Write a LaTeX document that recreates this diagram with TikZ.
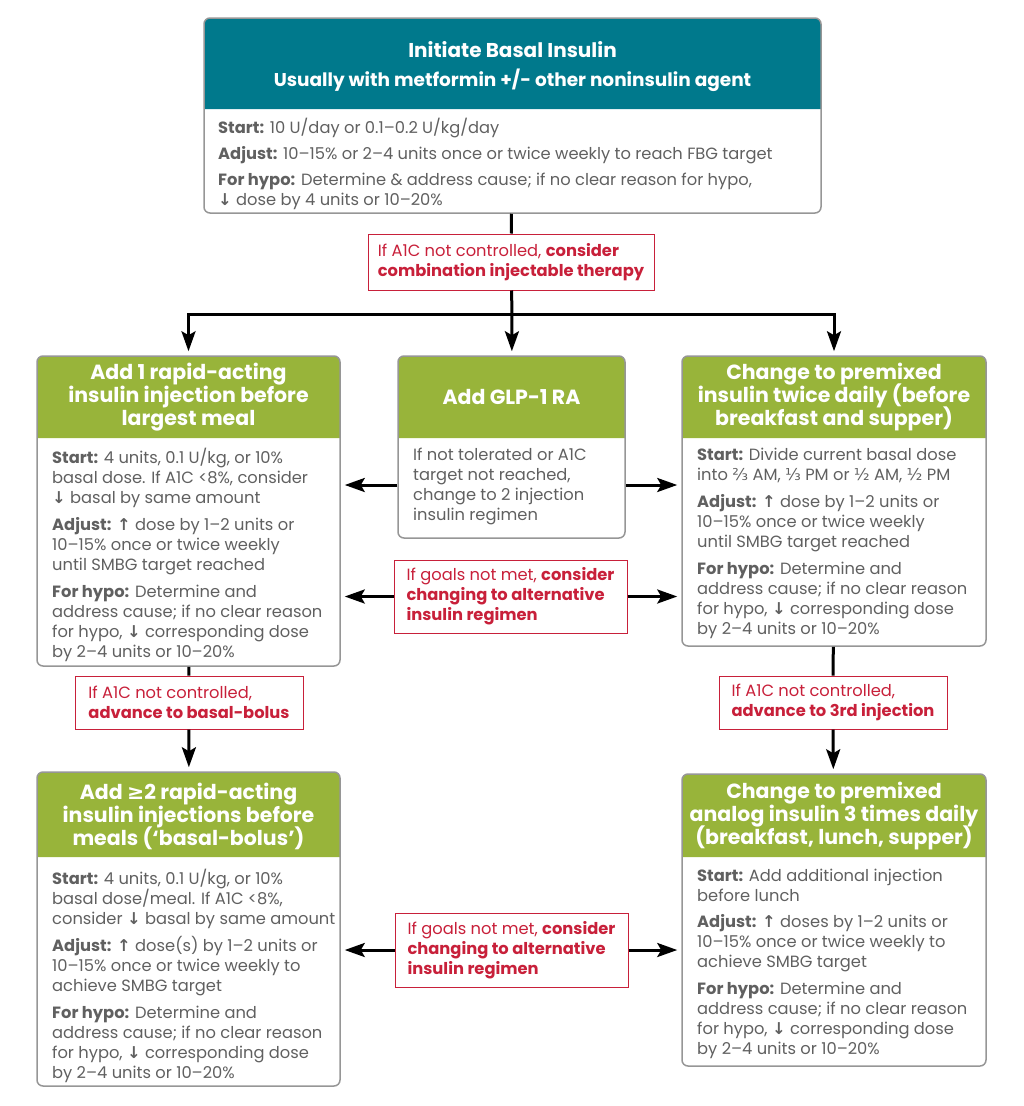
\documentclass[tikz,border=0pt]{standalone}
\usepackage{fontspec}
\setmainfont{Poppins}
\newfontfamily\symfont{DejaVu Sans}
\usetikzlibrary{arrows.meta}

\definecolor{hdrteal}{RGB}{0,121,140}
\definecolor{hdrgreen}{RGB}{152,180,58}
\definecolor{alertred}{RGB}{200,32,58}
\definecolor{bodygray}{RGB}{96,96,96}
\definecolor{framegray}{RGB}{150,150,150}

\setlength{\lineskiplimit}{-20pt}
\newcommand\arrdown{{\symfont\bfseries ↓}}
\newcommand\arrup{{\symfont\bfseries ↑}}
\newcommand\lbl[1]{{\bfseries #1}}

\tikzset{
  stepframe/.style = {draw=framegray, line width=1.5pt, rounded corners=6pt},
  steptitle/.style = {text=white, align=center, inner sep=0pt,
    font=\fontsize{20.5}{23}\selectfont\bfseries},
  stepbody/.style = {text=bodygray, align=left, inner sep=0pt, anchor=north west,
    font=\fontsize{16.3}{20}\selectfont},
  altbox/.style = {draw=alertred, line width=1pt, fill=white, text=alertred,
    align=left, font=\fontsize{16.3}{20}\selectfont},
  flow/.style = {line width=3pt},
  flowarrow/.style = {line width=3pt, -{Stealth[length=20pt, width=14pt, inset=4pt]},
    shorten >=4pt}
}

\begin{document}
\begin{tikzpicture}[x=1pt, y=-1pt]
\useasboundingbox (0,0) rectangle (1024,1106);

% headers
\fill[hdrteal, rounded corners=6pt] (204,109) -- (204,18) -- (821,18) -- (821,109);
\fill[hdrgreen, rounded corners=6pt] (37,438) -- (37,356) -- (340,356) -- (340,438);
\fill[hdrgreen, rounded corners=6pt] (398,438) -- (398,356) -- (625,356) -- (625,438);
\fill[hdrgreen, rounded corners=6pt] (682,438) -- (682,356) -- (986,356) -- (986,438);
\fill[hdrgreen, rounded corners=6pt] (37,857) -- (37,772) -- (340,772) -- (340,857);
\fill[hdrgreen, rounded corners=6pt] (682,857) -- (682,774) -- (986,774) -- (986,857);

% frames
\node[stepframe, minimum width=617pt, minimum height=195pt] (basal) at (512.5,115.5) {};
\node[stepframe, minimum width=303pt, minimum height=310pt] (rapid) at (188.5,511) {};
\node[stepframe, minimum width=227pt, minimum height=182pt] (glp) at (511.5,447) {};
\node[stepframe, minimum width=304pt, minimum height=290pt] (premix) at (834,501) {};
\node[stepframe, minimum width=303pt, minimum height=314pt] (bolus) at (188.5,929) {};
\node[stepframe, minimum width=304pt, minimum height=292pt] (analog) at (834,920) {};

% titles
\node[steptitle, font=\fontsize{20}{23}\selectfont\bfseries] (basal-t) at (512.5,50) {Initiate Basal Insulin};
\node[steptitle, font=\fontsize{18.5}{23}\selectfont\bfseries] (basal-s) at (512.5,80) {Usually with metformin +/- other noninsulin agent};
\node[steptitle] (rapid-t) at (188.5,397) {Add 1 rapid-acting\\insulin injection before\\largest meal};
\node[steptitle] (glp-t) at (511.5,397) {Add GLP-1 RA};
\node[steptitle] (premix-t) at (834,397) {Change to premixed\\insulin twice daily (before\\breakfast and supper)};
\node[steptitle] (bolus-t) at (188.5,816) {Add {\symfont\bfseries ≥}2 rapid-acting\\insulin injections before\\meals (‘basal-bolus’)};
\node[steptitle] (analog-t) at (834,816) {Change to premixed\\analog insulin 3 times daily\\(breakfast, lunch, supper)};

% bodies
\node[stepbody] (basal-b) at (218,118) {\lbl{Start:} 10 U/day or 0.1–0.2 U/kg/day\\[6pt]
\lbl{Adjust:} 10–15\% or 2–4 units once or twice weekly to reach FBG target\\[6pt]
\lbl{For hypo:} Determine \& address cause; if no clear reason for hypo,\\
\arrdown{} dose by 4 units or 10–20\%};
\node[stepbody] (rapid-b) at (52,448) {\lbl{Start:} 4 units, 0.1 U/kg, or 10\%\\
basal dose. If A1C <8\%, consider\\
\arrdown{} basal by same amount\\[7pt]
\lbl{Adjust:} \arrup{} dose by 1–2 units or\\
10–15\% once or twice weekly\\
until SMBG target reached\\[7pt]
\lbl{For hypo:} Determine and\\
address cause; if no clear reason\\
for hypo, \arrdown{} corresponding dose\\
by 2–4 units or 10–20\%};
\node[stepbody] (glp-b) at (413,448) {If not tolerated or A1C\\
target not reached,\\
change to 2 injection\\
insulin regimen};
\node[stepbody] (premix-b) at (697,448) {\lbl{Start:} Divide current basal dose\\
into {\symfont ⅔} AM, {\symfont ⅓} PM or {\symfont ½} AM, {\symfont ½} PM\\[7pt]
\lbl{Adjust:} \arrup{} dose by 1–2 units or\\
10–15\% once or twice weekly\\
until SMBG target reached\\[7pt]
\lbl{For hypo:} Determine and\\
address cause; if no clear reason\\
for hypo, \arrdown{} corresponding dose\\
by 2–4 units or 10–20\%};
\node[stepbody] (bolus-b) at (52,869) {\lbl{Start:} 4 units, 0.1 U/kg, or 10\%\\
basal dose/meal. If A1C <8\%,\\
consider \arrdown{} basal by same amount\\[7pt]
\lbl{Adjust:} \arrup{} dose(s) by 1–2 units or\\
10–15\% once or twice weekly to\\
achieve SMBG target\\[7pt]
\lbl{For hypo:} Determine and\\
address cause; if no clear reason\\
for hypo, \arrdown{} corresponding dose\\
by 2–4 units or 10–20\%};
\node[stepbody] (analog-b) at (697,869) {\lbl{Start:} Add additional injection\\
before lunch\\[6pt]
\lbl{Adjust:} \arrup{} doses by 1–2 units or\\
10–15\% once or twice weekly to\\
achieve SMBG target\\[7pt]
\lbl{For hypo:} Determine and\\
address cause; if no clear reason\\
for hypo, \arrdown{} corresponding dose\\
by 2–4 units or 10–20\%};

% decision boxes
\node[altbox, minimum width=286pt, minimum height=56pt] (combo) at (511,262) {If A1C not controlled, \textbf{consider}\\\textbf{combination injectable therapy}};
\node[altbox, minimum width=233pt, minimum height=73pt] (goals1) at (510.5,596.5) {If goals not met, \textbf{consider}\\\textbf{changing to alternative}\\\textbf{insulin regimen}};
\node[altbox, minimum width=228pt, minimum height=53pt] (bbolus) at (189,702.5) {If A1C not controlled,\\\textbf{advance to basal-bolus}};
\node[altbox, minimum width=228pt, minimum height=53pt] (third) at (833,702.5) {If A1C not controlled,\\\textbf{advance to 3rd injection}};
\node[altbox, minimum width=233pt, minimum height=74pt] (goals2) at (511.5,950) {If goals not met, \textbf{consider}\\\textbf{changing to alternative}\\\textbf{insulin regimen}};

% connectors
\coordinate (split) at (512,314);
\draw[flow] (basal) -- (combo);
\draw[flow] (combo) -- (split);
\draw[flowarrow] (split) -- (glp);
\draw[flowarrow] (split) -| (rapid);
\draw[flowarrow] (split) -| (premix);
\coordinate (glp-l) at ([yshift=-38pt]glp.west);
\coordinate (glp-r) at ([yshift=-38pt]glp.east);
\draw[flowarrow] (glp-l) -- (glp-l -| rapid.east);
\draw[flowarrow] (glp-r) -- (glp-r -| premix.west);
\draw[flowarrow] (goals1) -- (goals1 -| rapid.east);
\draw[flowarrow] (goals1) -- (goals1 -| premix.west);
\draw[flow] (rapid) -- (bbolus);
\draw[flowarrow] (bbolus) -- (bolus);
\draw[flow] (premix) -- (third);
\draw[flowarrow] (third) -- (analog);
\draw[flowarrow] (goals2) -- (goals2 -| bolus.east);
\draw[flowarrow] (goals2) -- (goals2 -| analog.west);
\end{tikzpicture}
\end{document}
